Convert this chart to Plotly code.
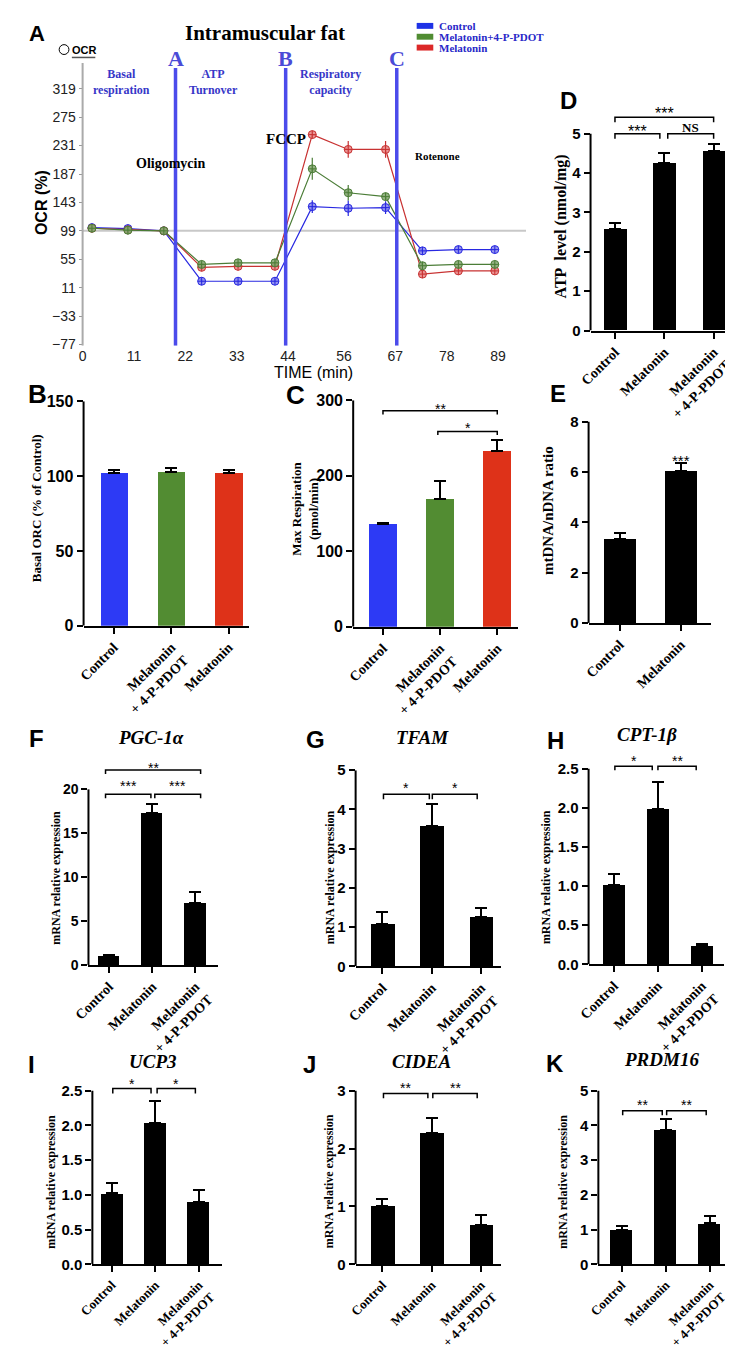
import plotly.graph_objects as go

W, H = 733, 1366
SANS = "Liberation Sans"
SERIF = "Liberation Serif"

# ---------------- Panel A: OCR time course ----------------
time_min = [2.0, 9.7, 17.4, 25.5, 33.3, 41.2, 49.2, 56.9, 64.9, 72.8, 80.5, 88.3]
ocr_control = [104, 102.5, 99, 21, 21, 21, 136.5, 134, 135, 68, 70, 70]
ocr_control_err = [2, 2, 1, 3, 2, 2, 10, 12, 10, 3, 2, 2]
ocr_mel_pdot = [103, 100, 99, 47, 49.5, 49.5, 195, 158, 152, 45, 47, 47]
ocr_mel_pdot_err = [2, 2, 1, 3, 2, 2, 17, 12, 5, 5, 2, 2]
ocr_mel = [103, 100.5, 99, 42.5, 44, 44, 248, 225, 225, 32, 37, 37]
ocr_mel_err = [2, 2, 1, 3, 2, 2, 5, 13, 13, 5, 2, 2]
injection_times = [19.9, 43.5, 67.3]
injection_letters = ["A", "B", "C"]
ocr_ticks = [-77, -33, 11, 55, 99, 143, 187, 231, 275, 319]
time_ticks = [0, 11, 22, 33, 44, 56, 67, 78, 89]
ocr_baseline = 99

# ---------------- Bar panels ----------------
groups_bc = ["Control", "Melatonin<br>+ 4-P-PDOT", "Melatonin"]
groups_3 = ["Control", "Melatonin", "Melatonin<br>+ 4-P-PDOT"]
groups_2 = ["Control", "Melatonin"]

b_basal_ocr = [101.8, 102.6, 101.8]
b_basal_ocr_err = [2.4, 2.8, 2.4]
c_max_resp = [136, 168.6, 232.7]
c_max_resp_err = [2, 25, 14]
d_atp = [2.58, 4.26, 4.55]
d_atp_err = [0.15, 0.26, 0.18]
e_mtdna = [3.35, 6.04]
e_mtdna_err = [0.22, 0.32]
f_pgc1a = [1.0, 17.3, 7.1]
f_pgc1a_err = [0.15, 1.0, 1.2]
g_tfam = [1.07, 3.57, 1.26]
g_tfam_err = [0.31, 0.58, 0.23]
h_cpt1b = [1.01, 1.98, 0.23]
h_cpt1b_err = [0.15, 0.35, 0.03]
i_ucp3 = [1.02, 2.03, 0.9]
i_ucp3_err = [0.15, 0.32, 0.17]
j_cidea = [1.0, 2.27, 0.68]
j_cidea_err = [0.13, 0.26, 0.18]
k_prdm16 = [1.0, 3.87, 1.18]
k_prdm16_err = [0.1, 0.31, 0.2]

BLUE = "rgb(45,58,245)"
GREEN = "rgb(82,140,50)"
RED = "rgb(222,50,25)"

fig = go.Figure()
shapes, annos, axes = [], [], {}


def X(p):
    return p / W


def Y(p):
    return 1 - p / H


def xr(n):
    return "x" if n == 1 else f"x{n}"


def yr(n):
    return "y" if n == 1 else f"y{n}"


def xa(n):
    return "xaxis" if n == 1 else f"xaxis{n}"


def ya(n):
    return "yaxis" if n == 1 else f"yaxis{n}"


def text(x, y, s, size, family=SANS, color="black", bold=True, italic=False,
         xanchor="center", yanchor="middle", angle=0, xref="paper", yref="paper", yshift=0):
    if xref == "paper":
        x = X(x)
    if yref == "paper":
        y = Y(y)
    annos.append(dict(x=x, y=y, xref=xref, yref=yref, text=s, showarrow=False,
                      xanchor=xanchor, yanchor=yanchor, textangle=angle, yshift=yshift,
                      font=dict(family=family, size=size, color=color,
                                weight="bold" if bold else "normal",
                                style="italic" if italic else "normal")))


# ---------------- Panel A ----------------
a_left, a_right = 60, 514
a_row99 = 216.7  # pixel row of the 99 % line
a_ppu = 28.8 / 44
a_range = [-79, 380]
a_dom_bottom = a_row99 + (ocr_baseline - a_range[0]) * a_ppu
a_dom_top = a_row99 - (a_range[1] - ocr_baseline) * a_ppu

series = [
    ("Control", ocr_control, ocr_control_err, "rgb(40,40,225)", "rgba(130,130,235,0.85)"),
    ("Melatonin", ocr_mel, ocr_mel_err, "rgb(200,50,50)", "rgba(230,130,130,0.85)"),
    ("Melatonin+4-P-PDOT", ocr_mel_pdot, ocr_mel_pdot_err, "rgb(75,125,55)", "rgba(130,165,110,0.85)"),
]
for name, vals, errs, lc, fc in series:
    fig.add_trace(go.Scatter(
        x=time_min, y=vals, mode="lines+markers", name=name, showlegend=False,
        line=dict(color=lc, width=1.2),
        marker=dict(symbol="circle-cross", size=8, color=fc, line=dict(color=lc, width=1)),
        error_y=dict(type="data", array=errs, color=lc, thickness=1.2, width=0),
        xaxis="x", yaxis="y"))

axes["xaxis"] = dict(domain=[X(a_left), X(a_right)], range=[0, 95], anchor="y",
                     tickmode="array", tickvals=time_ticks, ticks="", showline=False,
                     showgrid=False, zeroline=False,
                     tickfont=dict(family=SANS, size=14, color="#222"))
axes["yaxis"] = dict(domain=[Y(a_dom_bottom), Y(a_dom_top)], range=a_range, anchor="x",
                     tickmode="array", tickvals=ocr_ticks, ticks="outside", ticklen=3,
                     tickcolor="#999", showline=False, showgrid=False, zeroline=False,
                     tickfont=dict(family=SANS, size=14, color="#222"))
shapes.append(dict(type="line", xref="x domain", yref="y", x0=0, x1=0, y0=a_range[0], y1=359,
                   line=dict(color="#aaaaaa", width=2)))
shapes.append(dict(type="line", xref="x", yref="y", x0=0, x1=95, y0=ocr_baseline, y1=ocr_baseline,
                   layer="below", line=dict(color="#c8c8c8", width=2)))
for t, lab in zip(injection_times, injection_letters):
    shapes.append(dict(type="line", xref="x", yref="y", x0=t, x1=t, y0=a_range[0], y1=351,
                       line=dict(color="rgb(75,75,235)", width=3.5)))
    text(t, 366, lab, 22, family=SERIF, color="rgb(75,75,215)", xref="x", yref="y")

PHASE = "rgb(55,55,200)"
text(69, 49, "Basal<br>respiration", 12, family=SERIF, color=PHASE, xanchor="left", yanchor="top")
text(167, 49, "ATP<br>Turnover", 12, family=SERIF, color=PHASE, xanchor="left", yanchor="top")
text(280, 49, "Respiratory<br>capacity", 12, family=SERIF, color=PHASE, xanchor="left", yanchor="top")
text(150, 148, "Oligomycin", 14, family=SERIF)
text(268, 124, "FCCP", 15, family=SERIF)
text(398, 141, "Rotenone", 11, family=SERIF, xanchor="left")
text(247, 16, "Intramuscular fat", 21, family=SERIF)
text(296, 360, "TIME (min)", 16, bold=False)
text(18, 188, "OCR (%)", 16, angle=-90)
# small OCR marker
shapes.append(dict(type="circle", xref="paper", yref="paper", x0=X(36), x1=X(46), y0=Y(38), y1=Y(28),
                   line=dict(color="black", width=1)))
text(47, 33, "OCR", 11, xanchor="left")
shapes.append(dict(type="line", xref="paper", yref="paper", x0=X(49), x1=X(73), y0=Y(41), y1=Y(41),
                   line=dict(color="#555", width=1.5)))
# legend
for i, (lab, col) in enumerate([("Control", "rgb(30,50,230)"),
                                ("Melatonin+4-P-PDOT", "rgb(80,140,50)"),
                                ("Melatonin", "rgb(220,40,40)")]):
    yc = 9 + i * 11
    shapes.append(dict(type="rect", xref="paper", yref="paper", x0=X(402), x1=X(419),
                       y0=Y(yc + 3), y1=Y(yc - 3), fillcolor=col, line=dict(width=0)))
    text(423, yc, lab, 11, family=SERIF, color="rgb(40,40,200)", xanchor="left")


# ---------------- Bar panel helper ----------------
def bar_panel(n, labels, vals, errs, colors, geo, yticks, sig=(), tickfmt=None,
              ytick_size=15, star_size=14, label_size=14):
    left, right, c0, step, bar_px, zero, top_px, top_val, ext = geo
    ppu = (zero - top_px) / top_val
    idx = list(range(len(vals)))
    fig.add_trace(go.Bar(
        x=idx, y=vals, width=bar_px / step, showlegend=False,
        marker=dict(color=colors, line=dict(width=0)),
        error_y=dict(type="data", array=errs, arrayminus=[0] * len(vals), symmetric=False,
                     color="black", thickness=2, width=6),
        xaxis=xr(n), yaxis=yr(n)))
    axes[xa(n)] = dict(domain=[X(left), X(right)], range=[(left - c0) / step, (right - c0) / step],
                       anchor=yr(n), tickmode="array", tickvals=idx, ticktext=labels, tickangle=-45,
                       ticks="outside", ticklen=6, tickwidth=2, tickcolor="black",
                       showline=True, linecolor="black", linewidth=2, showgrid=False, zeroline=False,
                       tickfont=dict(family=SERIF, size=label_size, color="black", weight="bold"))
    yax = dict(domain=[Y(zero), Y(zero - ext * ppu)], range=[0, ext], anchor=xr(n),
               tickmode="array", tickvals=yticks, ticks="outside", ticklen=6, tickwidth=2,
               tickcolor="black", showline=False, showgrid=False, zeroline=False,
               tickfont=dict(family=SANS, size=ytick_size, color="black", weight="bold"))
    if tickfmt:
        yax["tickformat"] = tickfmt
    axes[ya(n)] = yax
    shapes.append(dict(type="line", xref=f"{xr(n)} domain", yref=yr(n), x0=0, x1=0, y0=0, y1=top_val,
                       line=dict(color="black", width=2)))
    for x0, x1, yb, yl, lab, ylab in sig:
        shapes.append(dict(type="path", xref=xr(n), yref=yr(n),
                           path=f"M {x0},{yl} L {x0},{yb} L {x1},{yb} L {x1},{yl}",
                           line=dict(color="black", width=1.5)))
        if lab == "NS":
            text((x0 + x1) / 2, ylab, lab, 13, family=SERIF, xref=xr(n), yref=yr(n))
        else:
            text((x0 + x1) / 2, ylab, lab, star_size, bold=False, xref=xr(n), yref=yr(n), yshift=-4)


# geo: left, right, first-centre, step, bar width (px), zero row, top-tick row, top-tick value, range top
bar_panel(2, groups_bc, b_basal_ocr, b_basal_ocr_err, [BLUE, GREEN, RED],
          (61, 230, 92, 58.75, 28, 617, 389.3, 150, 150), [0, 50, 100, 150], ytick_size=16)
bar_panel(3, groups_bc, c_max_resp, c_max_resp_err, [BLUE, GREEN, RED],
          (337, 506, 367.5, 58.5, 29, 618, 388.3, 300, 300), [0, 100, 200, 300], ytick_size=16,
          sig=[(0, 2, 286, 281, "**", 294), (0.96, 2, 258.6, 254, "*", 268)])
bar_panel(4, groups_3, d_atp, d_atp_err, "black",
          (580, 731, 605, 50.5, 23.5, 317.7, 118.3, 5, 5.8), [0, 1, 2, 3, 4, 5], star_size=16,
          sig=[(0, 0.91, 5.0, 4.87, "***", 5.17), (1.07, 2.0, 5.0, 4.87, "NS", 5.17),
               (0, 2.0, 5.42, 5.29, "***", 5.61)])
bar_panel(5, groups_2, e_mtdna, e_mtdna_err, "black",
          (578, 703, 610, 62.5, 33, 614, 410, 8, 8), [0, 2, 4, 6, 8])
text(1, 6.62, "***", 15, bold=False, xref="x5", yref="y5", yshift=-4)
bar_panel(6, groups_3, f_pgc1a, f_pgc1a_err, "black",
          (66, 199, 87, 44.25, 22, 960.7, 782.7, 20, 23.6), [0, 5, 10, 15, 20], ytick_size=14,
          sig=[(-0.08, 2.12, 22.2, 21.76, "**", 22.9), (-0.08, 0.97, 19.44, 19.0, "***", 20.8),
               (1.06, 2.12, 19.44, 19.0, "***", 20.8)])
bar_panel(7, groups_3, g_tfam, g_tfam_err, "black",
          (339.5, 488, 367, 50.5, 24, 962, 763.3, 5, 5), [0, 1, 2, 3, 4, 5],
          sig=[(0.02, 0.95, 4.39, 4.26, "*", 4.64), (1.01, 1.92, 4.39, 4.26, "*", 4.64)])
bar_panel(8, groups_3, h_cpt1b, h_cpt1b_err, "black",
          (578, 717, 604, 45, 22.5, 960, 761.7, 2.5, 2.75), [0, 0.5, 1, 1.5, 2, 2.5], tickfmt=".1f",
          sig=[(0.02, 0.87, 2.53, 2.48, "*", 2.65), (1.0, 1.87, 2.53, 2.48, "**", 2.65)])
bar_panel(9, groups_3, i_ucp3, i_ucp3_err, "black",
          (70, 203, 90, 44.5, 22.5, 1264, 1088, 2.5, 2.8), [0, 0.5, 1, 1.5, 2, 2.5], tickfmt=".1f",
          label_size=13,
          sig=[(0.02, 0.9, 2.53, 2.46, "*", 2.66), (1.04, 1.92, 2.53, 2.46, "*", 2.66)])
bar_panel(10, groups_3, j_cidea, j_cidea_err, "black",
          (339.5, 488, 367, 50.5, 24, 1264, 1088, 3, 3.3), [0, 1, 2, 3], label_size=13,
          sig=[(0.02, 0.92, 2.95, 2.87, "**", 3.12), (1.02, 1.92, 2.95, 2.87, "**", 3.12)])
bar_panel(11, groups_3, k_prdm16, k_prdm16_err, "black",
          (588, 724, 612, 45, 22.5, 1264, 1088, 5, 5.2), [0, 1, 2, 3, 4, 5], label_size=13,
          sig=[(0.02, 0.92, 4.42, 4.29, "**", 4.7), (1.02, 1.92, 4.42, 4.29, "**", 4.7)])

# axis titles for bar panels
text(13, 498, "Basal ORC (% of Control)", 13, family=SERIF, angle=-90)
text(288, 498, "Max Respiration<br>(pmol/min)", 13, family=SERIF, angle=-90)
text(550, 212, "ATP  level (nmol/mg)", 16, family=SERIF, angle=-90)
text(537, 500, "mtDNA/nDNA ratio", 15, family=SERIF, angle=-90)
for xpix, yc in [(32, 872), (313, 872), (534, 872), (28, 1180), (313, 1180), (552, 1180)]:
    text(xpix, yc, "mRNA relative expression", 12, family=SERIF, angle=-90)

# gene titles
for xpix, ypix, s in [(130, 730, "PGC-1α"), (408, 730, "TFAM"), (638, 727, "CPT-1β"),
                      (132, 1058, "UCP3"), (407, 1058, "CIDEA"), (653, 1056, "PRDM16")]:
    text(xpix, ypix, s, 19, family=SERIF, italic=True)

# panel letters
for xpix, ypix, s, sz in [(13, 17, "A", 22), (14, 382, "B", 26), (278, 383, "C", 26),
                          (557, 85, "D", 24), (547, 382, "E", 24), (13, 731, "F", 24),
                          (298, 732, "G", 24), (544, 733, "H", 24), (8, 1061, "I", 24),
                          (292, 1061, "J", 24), (544, 1060, "K", 24)]:
    text(xpix, ypix, s, sz)

fig.update_layout(width=W, height=H, margin=dict(l=0, r=0, t=0, b=0),
                  paper_bgcolor="white", plot_bgcolor="white", bargap=0,
                  shapes=shapes, annotations=annos, **axes)
fig.write_html("out.html")
